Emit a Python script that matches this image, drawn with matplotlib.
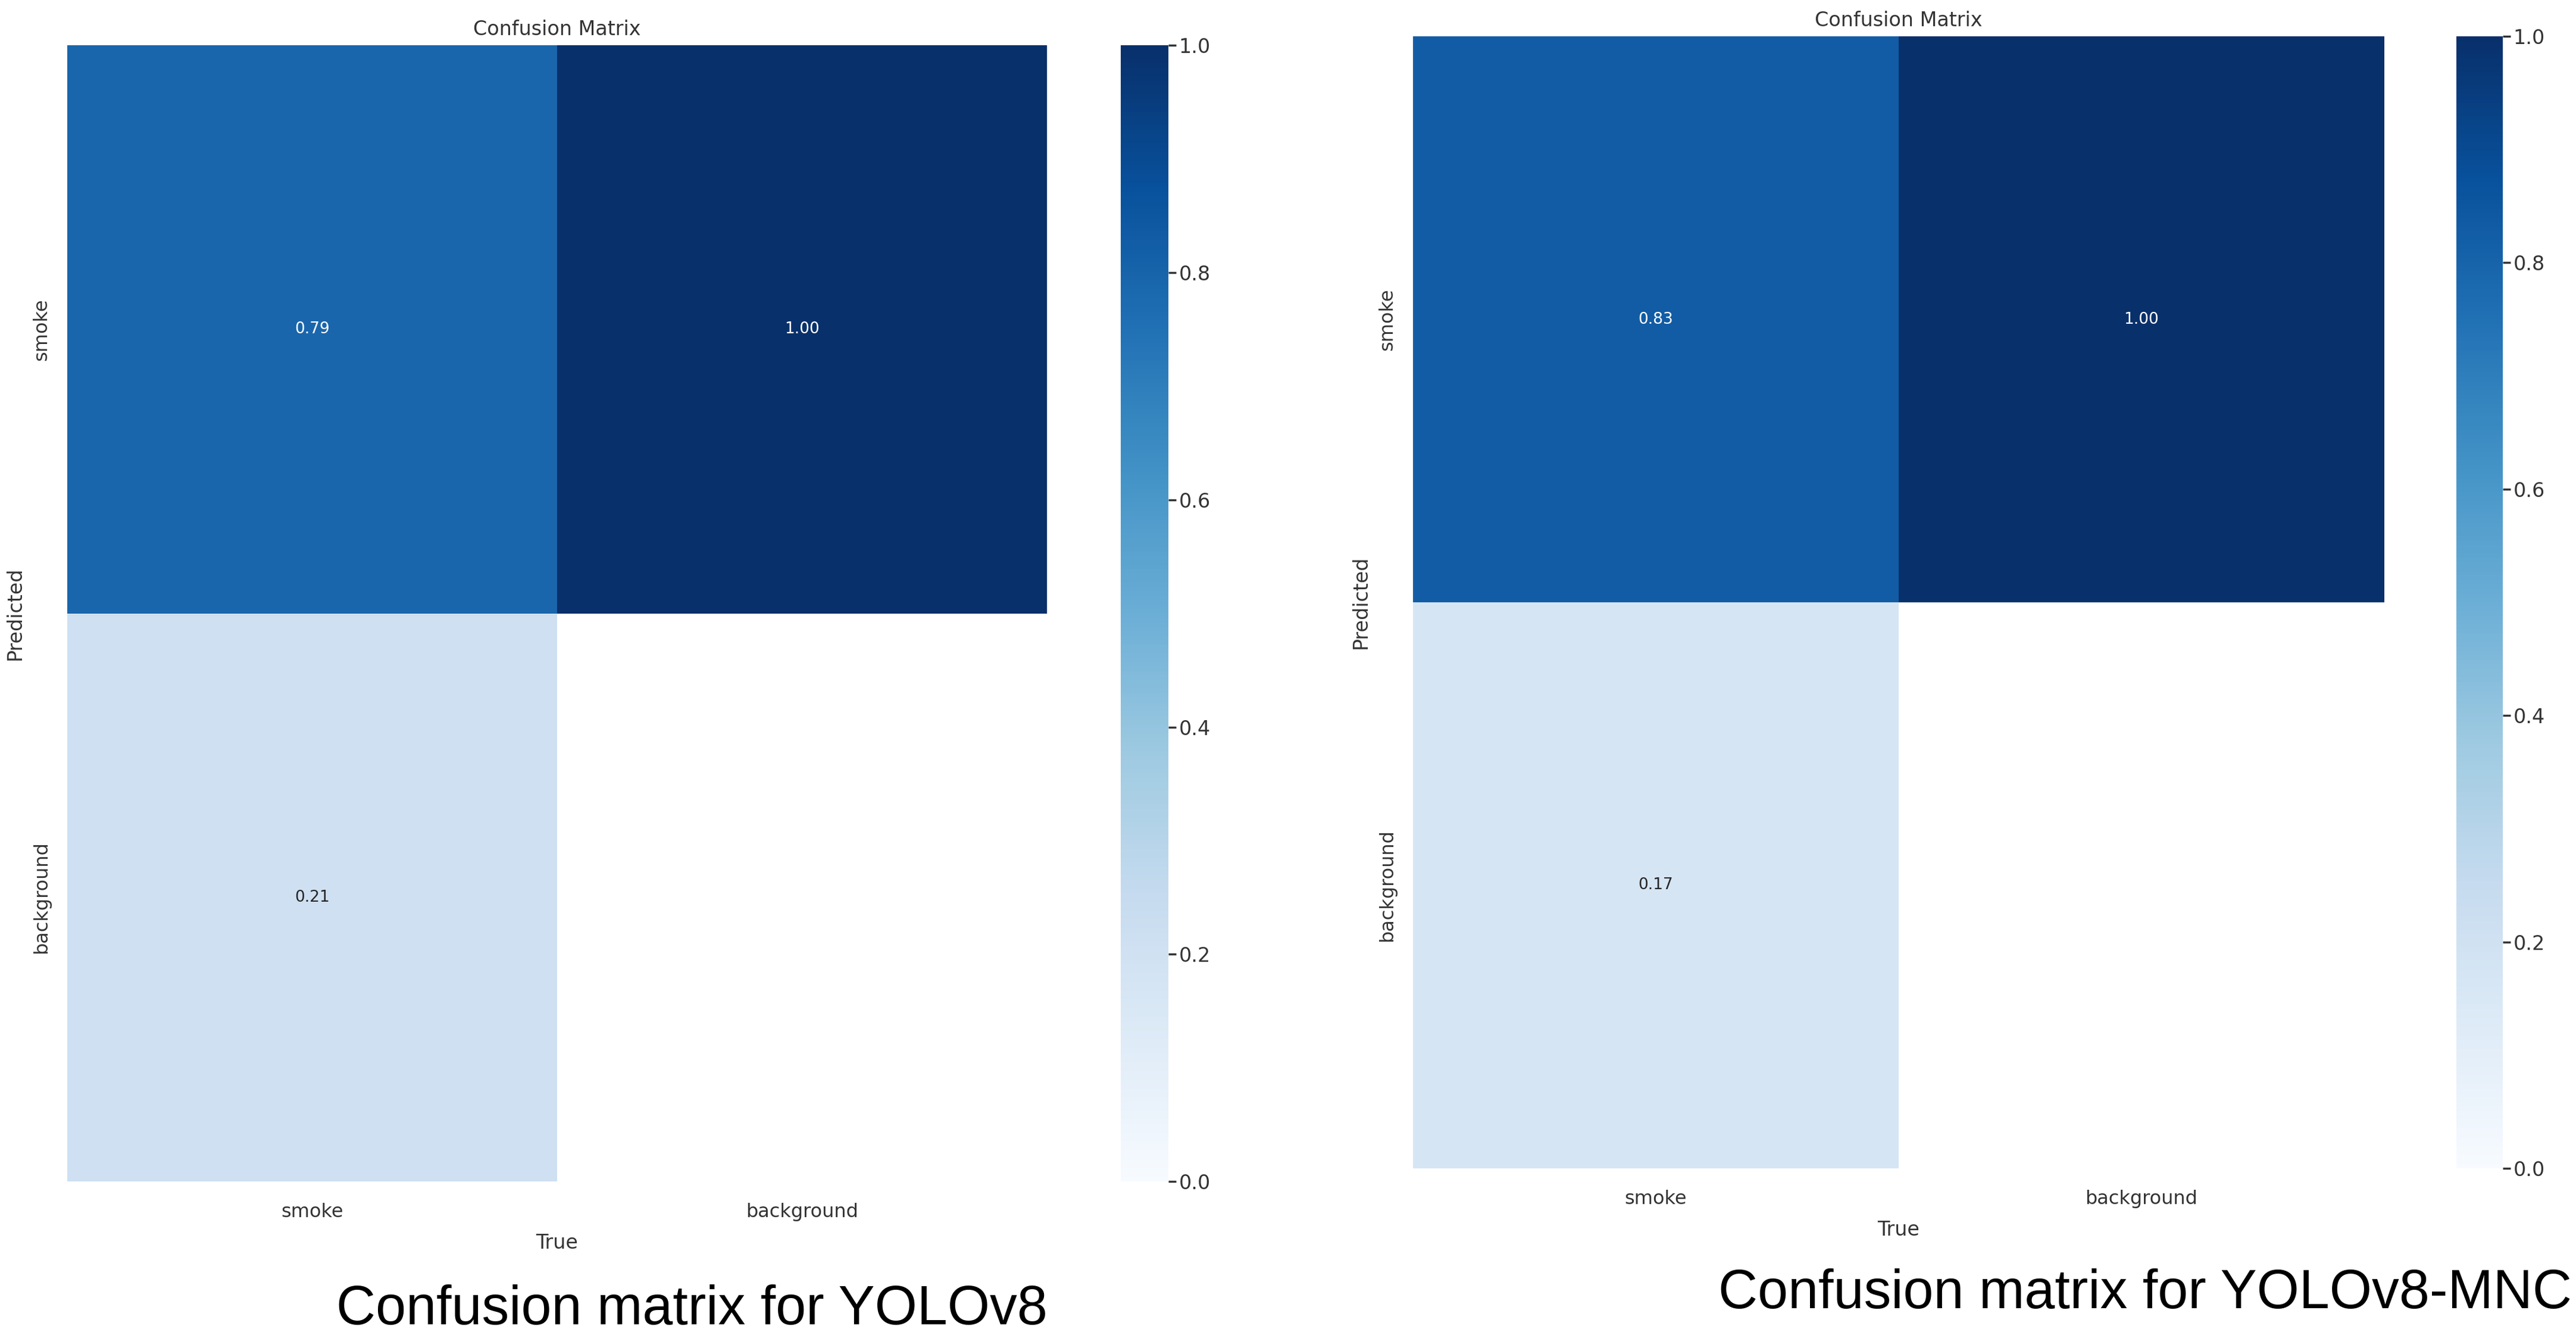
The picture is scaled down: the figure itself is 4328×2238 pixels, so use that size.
import matplotlib

matplotlib.use('Agg')

import numpy as np
import matplotlib.pyplot as plt
import seaborn as sns

classes = ['smoke', 'background']
# rows = Predicted, cols = True (normalized)
matriz_yolov8 = [[0.79, 1.00],
                 [0.21, 0.00]]
matriz_mnc = [[0.83, 1.00],
              [0.17, 0.00]]
legendas = ['Confusion matrix for YOLOv8', 'Confusion matrix for YOLOv8-MNC']

fig = plt.figure(figsize=(43.28, 22.38), dpi=100)

# posicoes [heatmap, colorbar] em fracao da figura
caixas = [
    ([0.0261, 0.1130, 0.3803, 0.8530], [0.4351, 0.1130, 0.0185, 0.8530]),
    ([0.5485, 0.1229, 0.3771, 0.8498], [0.9536, 0.1229, 0.0180, 0.8498]),
]
legendas_pos = [(0.2685, 0.006), (0.8327, 0.018)]


def desenha(matriz, caixa_hm, caixa_cb, legenda, pos):
    ax = fig.add_axes(caixa_hm)
    cax = fig.add_axes(caixa_cb)
    m = np.array(matriz, dtype=float)
    m[m < 0.005] = np.nan
    sns.heatmap(m, ax=ax, cbar_ax=cax, cmap='Blues', vmin=0.0, vmax=1.0,
                annot=True, fmt='.2f', annot_kws={'size': 19},
                square=False, xticklabels=classes, yticklabels=classes)
    ax.tick_params(length=0, labelsize=23, colors='#333333')
    ax.tick_params(axis='x', pad=26)
    ax.tick_params(axis='y', pad=20)
    plt.setp(ax.get_yticklabels(), rotation=90, va='center')
    plt.setp(ax.get_xticklabels(), rotation=0)
    ax.set_xlabel('True', fontsize=24, color='#333333', labelpad=14)
    ax.set_ylabel('Predicted', fontsize=24, color='#333333', labelpad=9)
    ax.set_title('Confusion Matrix', fontsize=24, color='#333333', pad=12)
    cax.tick_params(labelsize=24, length=9, width=2.5, colors='#333333')
    cax.set_yticks([0.0, 0.2, 0.4, 0.6, 0.8, 1.0])
    cax.set_yticklabels(['0.0', '0.2', '0.4', '0.6', '0.8', '1.0'])
    fig.text(pos[0], pos[1], legenda, fontsize=66, family='Liberation Sans',
             ha='center', va='baseline', color='black')


for i in range(0, 2, 1):
    m = matriz_yolov8 if i == 0 else matriz_mnc
    desenha(m, caixas[i][0], caixas[i][1], legendas[i], legendas_pos[i])

fig.savefig('out.png', dpi=100)
